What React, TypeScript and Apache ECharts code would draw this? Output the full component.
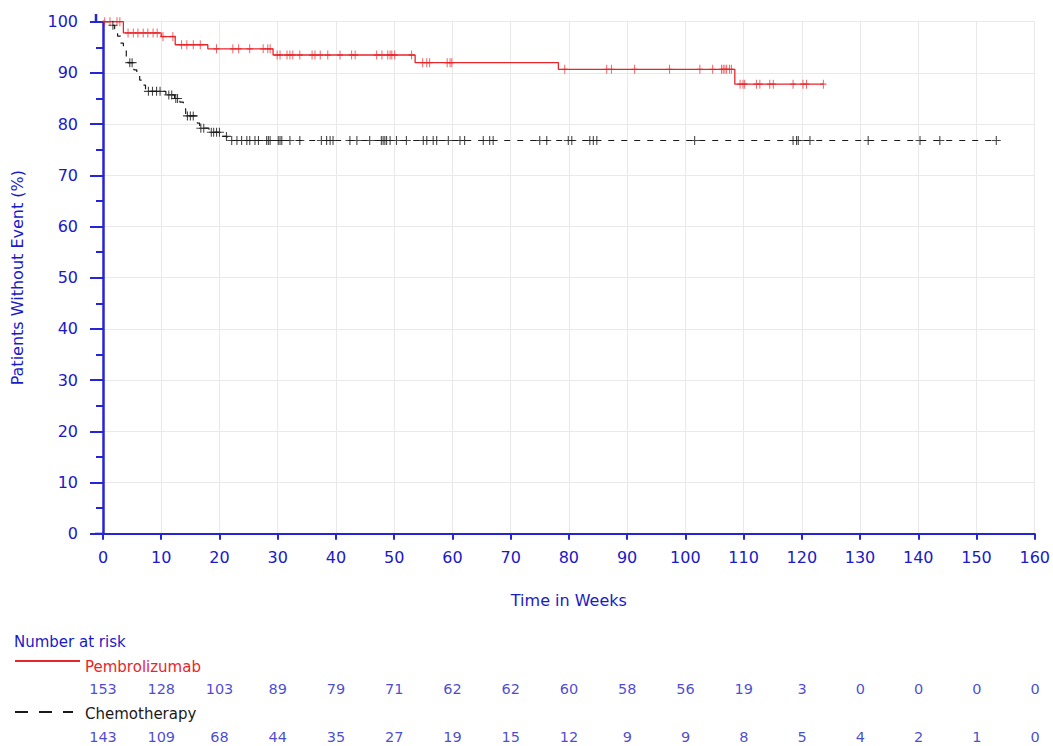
import React, { useEffect, useRef } from "react";
import * as echarts from "echarts";

// ---- data ----
// Kaplan-Meier steps: [week, % without event] (value holds from that week on)
const pembroSteps: [number, number][] = [
  [0, 100], [3.5, 97.8], [10, 97.1], [12.4, 95.5], [18, 94.7], [29.2, 93.5],
  [53.6, 92.0], [78.2, 90.7], [108.5, 87.8], [123.7, 87.8],
];
const chemoSteps: [number, number][] = [
  [0, 100], [1.5, 99.3], [2, 98.6], [2.5, 97.2], [3, 95.8], [3.5, 94.4], [4, 93.0],
  [4.3, 92.0], [5.3, 90.6], [5.8, 89.6], [6.3, 88.6], [6.8, 87.6], [7.3, 86.4],
  [10.8, 85.7], [12.3, 85.0], [13.2, 84.3], [13.8, 83.0], [14.2, 81.6], [16.2, 80.2],
  [16.6, 79.2], [18.2, 78.4], [20.6, 77.6], [21.3, 76.8], [153.8, 76.8],
];
// censoring times (weeks)
const pembroCensors = [
  0.3, 1.2, 2.4, 2.9, 4.3, 5.2, 6, 6.9, 7.7, 8.6, 9.3, 10.3, 12, 13.5, 14.4, 15.5, 16.7,
  19.5, 22.3, 23.3, 25.2, 27.5, 28.3, 28.7, 29.9, 30.4, 31.6, 32.1, 32.6, 33.8, 35.9, 36.4,
  37.3, 38.6, 40.7, 42.7, 43.3, 47, 47.9, 48.9, 49.3, 49.6, 50.1, 53.0, 54.9, 55.6, 56.1,
  59.1, 59.6, 59.9, 79.3, 86.5, 87.3, 91.3, 97.3, 102.5, 104.7, 106.2, 106.5, 106.8, 107.1,
  107.6, 107.9, 109.4, 109.9, 110.2, 112.2, 112.8, 114.5, 115.1, 118.5, 120.2, 120.8, 123.7,
];
const chemoCensors = [
  1.7, 4.6, 5.0, 7.8, 8.5, 9.2, 9.8, 11.3, 11.8, 12.5, 12.8, 14.5, 15, 15.5, 16.8, 17.3,
  18.6, 19, 19.5, 20, 21.2, 22.1, 23, 23.8, 24.7, 25.2, 26.1, 26.7, 28.1, 28.4, 28.7, 30.1,
  30.4, 30.7, 32.1, 33.8, 37.5, 38.4, 39, 39.5, 42.4, 43.6, 45.8, 47.8, 48.1, 48.4, 48.7,
  49.3, 50.4, 52.1, 55, 55.6, 56.7, 57.3, 59.3, 61.3, 62.1, 65.3, 66.4, 67, 75, 76.2, 79.9,
  80.5, 83.6, 84.2, 84.8, 101.6, 118.5, 119.1, 119.4, 121.4, 131.4, 140.3, 143.7, 153.4,
];
// number at risk
const riskWeeks = [0, 10, 20, 30, 40, 50, 60, 70, 80, 90, 100, 110, 120, 130, 140, 150, 160];
const pembroAtRisk = [153, 128, 103, 89, 79, 71, 62, 62, 60, 58, 56, 19, 3, 0, 0, 0, 0];
const chemoAtRisk = [143, 109, 68, 44, 35, 27, 19, 15, 12, 9, 9, 8, 5, 4, 2, 1, 0];

const BLUE = "#2424d8";
const TEXT_BLUE = "#1a1ac6";
const RED = "#e8262a";
const BLACK = "#1a1a1a";
const FONT = "DejaVu Sans";

function valueAt(steps: [number, number][], t: number): number {
  let v = steps[0][1];
  for (const [w, s] of steps) {
    if (w <= t) v = s;
  }
  return v;
}

const PLUS = "path://M5,0L5,10M0,5L10,5";

export default function App() {
  const ref = useRef<HTMLDivElement>(null);
  useEffect(() => {
    if (!ref.current) return;
    const chart = echarts.init(ref.current, null, { renderer: "svg" });
    const gridTop = 21.7;
    const gridBottom = 533.7;
    const left = 103;
    const right = 1035;
    const riskLabel = {
      show: true,
      position: "inside",
      formatter: (p: any) => String(p.value[2]),
      color: TEXT_BLUE,
      fontSize: 14.5,
      fontFamily: FONT,
    };
    chart.setOption({
      animation: false,
      backgroundColor: "#ffffff",
      textStyle: { fontFamily: FONT },
      grid: [
        { left, right: 1053 - right, top: gridTop, height: gridBottom - gridTop },
        { left, right: 1053 - right, top: 689, height: 48 },
      ],
      xAxis: [
        {
          type: "value",
          min: 0,
          max: 160,
          interval: 10,
          name: "Time in Weeks",
          nameLocation: "middle",
          nameGap: 59,
          nameTextStyle: { color: TEXT_BLUE, fontSize: 16, fontFamily: FONT },
          axisLine: { show: true, lineStyle: { color: BLUE, width: 2 } },
          axisTick: { show: true, length: 6, lineStyle: { color: BLUE, width: 2 } },
          axisLabel: { color: TEXT_BLUE, fontSize: 16, margin: 16, fontFamily: FONT },
          splitLine: { show: true, lineStyle: { color: "#e9e9e9", width: 1 } },
        },
        {
          type: "value",
          gridIndex: 1,
          min: 0,
          max: 160,
          interval: 10,
          show: false,
        },
      ],
      yAxis: [
        {
          type: "value",
          min: 0,
          max: 100,
          interval: 10,
          offset: 7,
          name: "Patients Without Event (%)",
          nameLocation: "middle",
          nameGap: 71,
          nameRotate: 90,
          nameTextStyle: { color: TEXT_BLUE, fontSize: 16, fontFamily: FONT },
          axisLine: { show: true, lineStyle: { color: BLUE, width: 2.5 } },
          axisTick: { show: true, length: 13, lineStyle: { color: BLUE, width: 2 } },
          minorTick: { show: true, splitNumber: 2, length: 7, lineStyle: { color: BLUE, width: 2 } },
          axisLabel: { color: TEXT_BLUE, fontSize: 16, margin: 18, fontFamily: FONT },
          splitLine: { show: true, lineStyle: { color: "#e9e9e9", width: 1 } },
        },
        {
          type: "value",
          gridIndex: 1,
          min: 0,
          max: 1,
          show: false,
        },
      ],
      series: [
        {
          name: "Pembrolizumab",
          type: "line",
          step: "end",
          data: pembroSteps,
          showSymbol: false,
          symbol: "none",
          lineStyle: { color: RED, width: 1.3 },
          z: 4,
        },
        {
          name: "Chemotherapy",
          type: "line",
          step: "end",
          data: chemoSteps,
          showSymbol: false,
          symbol: "none",
          lineStyle: { color: BLACK, width: 1.2, type: [6, 7] },
          z: 3,
        },
        {
          name: "Pembrolizumab censored",
          type: "scatter",
          data: pembroCensors.map((t) => [t, valueAt(pembroSteps, t)]),
          symbol: PLUS,
          symbolSize: [6, 9],
          itemStyle: { color: "rgba(0,0,0,0)", borderColor: RED, borderWidth: 1.1 },
          z: 5,
        },
        {
          name: "Chemotherapy censored",
          type: "scatter",
          data: chemoCensors.map((t) => [t, valueAt(chemoSteps, t)]),
          symbol: PLUS,
          symbolSize: [9, 9],
          itemStyle: { color: "rgba(0,0,0,0)", borderColor: BLACK, borderWidth: 1.1 },
          z: 5,
        },
        {
          name: "Pembrolizumab at risk",
          type: "scatter",
          xAxisIndex: 1,
          yAxisIndex: 1,
          data: pembroAtRisk.map((v, i) => [riskWeeks[i], 1, v]),
          symbolSize: 1,
          itemStyle: { color: "rgba(0,0,0,0)" },
          label: riskLabel,
        },
        {
          name: "Chemotherapy at risk",
          type: "scatter",
          xAxisIndex: 1,
          yAxisIndex: 1,
          data: chemoAtRisk.map((v, i) => [riskWeeks[i], 0, v]),
          symbolSize: 1,
          itemStyle: { color: "rgba(0,0,0,0)" },
          label: riskLabel,
        },
      ],
      graphic: [
        // axis line extensions
        { type: "line", shape: { x1: 96, y1: 14, x2: 96, y2: gridTop }, style: { stroke: BLUE, lineWidth: 2.5 } },
        { type: "line", shape: { x1: 95, y1: gridBottom, x2: left, y2: gridBottom }, style: { stroke: BLUE, lineWidth: 2 } },
        {
          type: "text",
          left: 14,
          top: 634,
          style: { text: "Number at risk", fill: TEXT_BLUE, font: `15px '${FONT}'` },
        },
        { type: "line", shape: { x1: 15, y1: 661, x2: 80, y2: 661 }, style: { stroke: RED, lineWidth: 2 } },
        {
          type: "text",
          left: 85,
          top: 659,
          style: { text: "Pembrolizumab", fill: RED, font: `15px '${FONT}'` },
        },
        {
          type: "line",
          shape: { x1: 15, y1: 712, x2: 73, y2: 712 },
          style: { stroke: BLACK, lineWidth: 2, lineDash: [13, 11] },
        },
        {
          type: "text",
          left: 85,
          top: 706,
          style: { text: "Chemotherapy", fill: BLACK, font: `15px '${FONT}'` },
        },
      ],
    });
    return () => chart.dispose();
  }, []);
  return (
    <div
      ref={ref}
      style={{ position: "fixed", left: 0, top: 0, width: 1053, height: 746, background: "#fff" }}
    />
  );
}
